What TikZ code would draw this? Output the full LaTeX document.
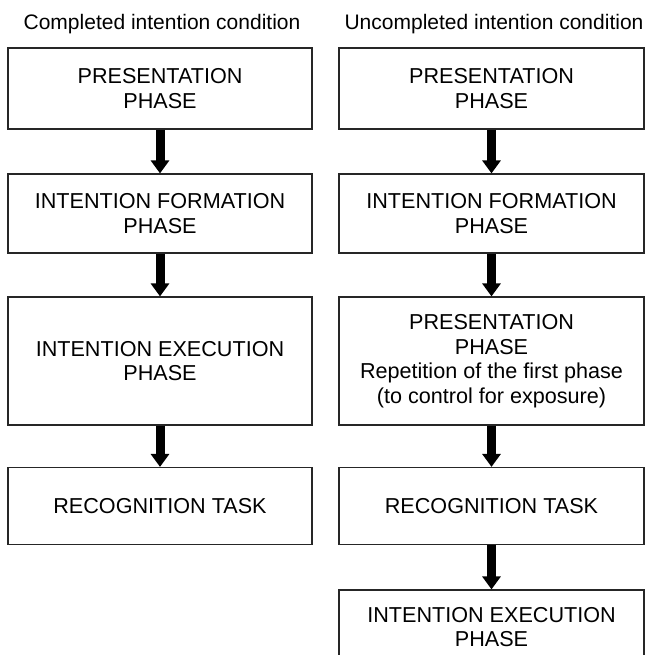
\documentclass[tikz,border=0pt]{standalone}
\usepackage{fontspec}
\setmainfont{Liberation Sans}
\usepackage{tikz}
\usetikzlibrary{arrows.meta}

\begin{document}
\begin{tikzpicture}[x=1pt,y=-1pt,semithick]
        \tikzstyle{phasebox}=[
            rectangle,
            draw=black!85,
            line width=1.2pt,
            fill=white,
            align=center,
            inner sep=0pt,
            font=\fontsize{21.6}{24.6}\selectfont
        ]
        \tikzstyle{condtitle}=[
            anchor=base,
            font=\fontsize{21}{24.5}\selectfont
        ]
        \tikzstyle{flowarrow}=[
            -{Triangle[width=18pt,length=13pt]},
            line width=9pt,
            black
        ]

        \clip (0,0) rectangle (648,655);

        % titles
        \node[condtitle] (T1) at (162,30){Completed intention condition};
        \node[condtitle] (T2) at (494,30){Uncompleted intention condition};

        % completed intention condition
        \node[phasebox, minimum width=304, minimum height=81] (A1) at (160,88.5){PRESENTATION\\PHASE};
        \node[phasebox, minimum width=304, minimum height=79] (A2) at (160,213.5){INTENTION FORMATION\\PHASE};
        \node[phasebox, minimum width=304, minimum height=128] (A3) at (160,361){INTENTION EXECUTION\\PHASE};
        \node[phasebox, minimum width=304, minimum height=77] (A4) at (160,506){RECOGNITION TASK};

        % uncompleted intention condition
        \node[phasebox, minimum width=305, minimum height=81] (B1) at (491.5,88.5){PRESENTATION\\PHASE};
        \node[phasebox, minimum width=305, minimum height=79] (B2) at (491.5,213.5){INTENTION FORMATION\\PHASE};
        \node[phasebox, minimum width=305, minimum height=128] (B3) at (491.5,361){PRESENTATION\\PHASE\\Repetition of the first phase\\(to control for exposure)};
        \node[phasebox, minimum width=305, minimum height=77] (B4) at (491.5,506){RECOGNITION TASK};
        \node[phasebox, minimum width=305, minimum height=74] (B5) at (491.5,627){INTENTION EXECUTION\\PHASE};

        \draw[flowarrow] (A1) -- (A2);
        \draw[flowarrow] (A2) -- (A3);
        \draw[flowarrow] (A3) -- (A4);

        \draw[flowarrow] (B1) -- (B2);
        \draw[flowarrow] (B2) -- (B3);
        \draw[flowarrow] (B3) -- (B4);
        \draw[flowarrow] (B4) -- (B5);

    \end{tikzpicture}
\end{document}
